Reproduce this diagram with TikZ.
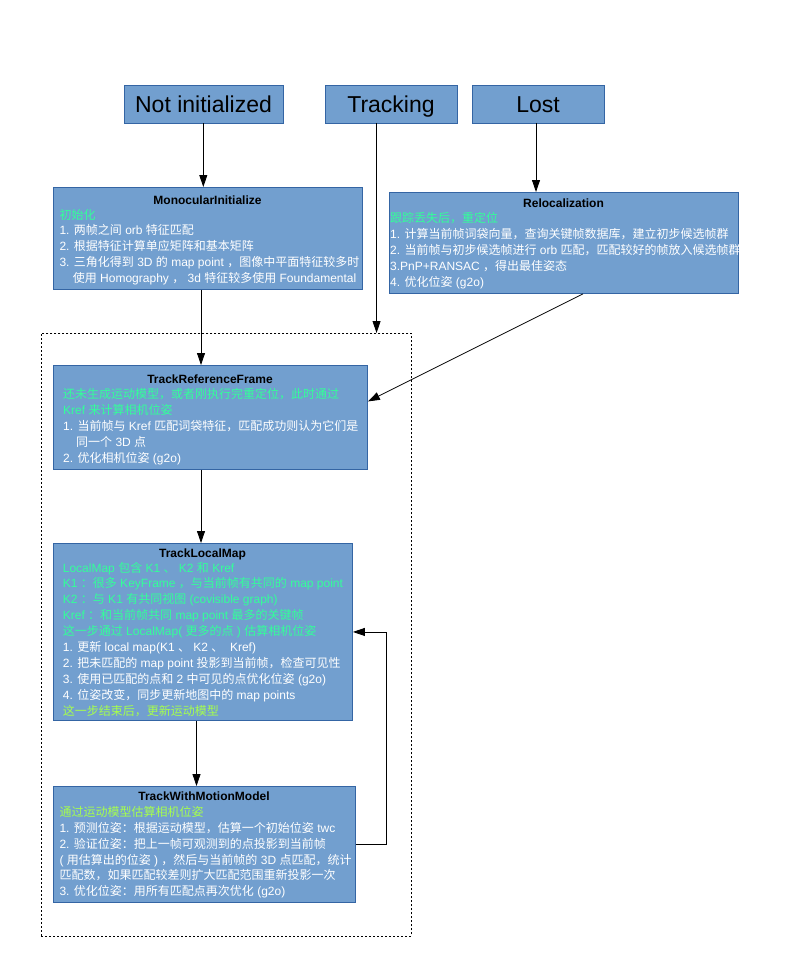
\documentclass[tikz,border=0pt]{standalone}
\usepackage{fontspec}
\setmainfont{Liberation Sans}
\newfontfamily\cjk{Noto Sans CJK SC}
\newcommand\zh[1]{{\cjk #1}}
\usetikzlibrary{arrows.meta}
\definecolor{boxfill}{HTML}{729FCF}
\definecolor{boxline}{HTML}{3465A4}
\definecolor{mint}{HTML}{33FF99}
\definecolor{lime}{HTML}{A6FF4D}
\tikzset{
  box/.style={draw=boxline, fill=boxfill, line width=0.9pt, inner sep=0pt, anchor=north west},
  statebox/.style={box, anchor=center, font=\fontsize{23}{28}\selectfont, text height=17pt, text depth=0pt},
  ttl/.style={font=\bfseries\fontsize{12}{14}\selectfont, anchor=base, inner sep=0pt, text=black},
  ln/.style={font=\fontsize{12}{14}\selectfont, anchor=base west, inner sep=0pt, text=white},
  gn/.style={ln, text=mint},
  yg/.style={ln, text=lime},
  arr/.style={-{Triangle[length=12pt,width=8pt]}, line width=0.8pt, draw=black},
  frame/.style={draw=black, line width=0.7pt, dash pattern=on 2pt off 2pt, inner sep=0pt, anchor=north west}
}
\begin{document}
\begin{tikzpicture}[x=1pt,y=-1pt]
\fill[white] (0,0) rectangle (784,963);
\useasboundingbox (0,0) rectangle (784,963);

% dashed frame
\node[frame, minimum width=370pt, minimum height=603pt] (frame) at (41,333) {};

% state boxes
\node[statebox, minimum width=159pt, minimum height=38pt] (notinit) at (203.5,104) {Not initialized};
\node[statebox, minimum width=132pt, minimum height=38pt] (track) at (391,104) {Tracking};
\node[statebox, minimum width=132pt, minimum height=38pt] (lost) at (538,104) {Lost};

% process boxes
\node[box, minimum width=309pt, minimum height=102pt] (mono) at (53,187) {};
\node[box, minimum width=349pt, minimum height=101pt] (reloc) at (389,192) {};
\node[box, minimum width=314pt, minimum height=104pt] (trf) at (53,365) {};
\node[box, minimum width=299pt, minimum height=177pt] (tlm) at (53,543) {};
\node[box, minimum width=302pt, minimum height=116pt] (twmm) at (53,786) {};

% MonocularInitialize text
\node[ttl] (m0) at (207.5,204) {MonocularInitialize};
\node[gn] (m1) at (59.3,219) {\zh{初始化}};
\node[ln] (m2) at (59.3,234.8) {1. \zh{两帧之间} orb \zh{特征匹配}};
\node[ln] (m3) at (59.3,250.6) {2. \zh{根据特征计算单应矩阵和基本矩阵}};
\node[ln] (m4) at (59.3,266.4) {3. \zh{三角化得到} 3D \zh{的} map point \zh{，图像中平面特征较多时}};
\node[ln] (m5) at (72.7,282.2) {\zh{使用} Homography \zh{，} 3d \zh{特征较多使用} Foundamental};

% Relocalization text
\node[ttl] (r0) at (563.5,207) {Relocalization};
\node[gn] (r1) at (390,222.3) {\zh{跟踪丢失后，重定位}};
\node[ln] (r2) at (390,238.4) {1. \zh{计算当前帧词袋向量，查询关键帧数据库，建立初步候选帧群}};
\node[ln] (r3) at (390,254.5) {2. \zh{当前帧与初步候选帧进行} orb \zh{匹配，匹配较好的帧放入候选帧群}};
\node[ln] (r4) at (390,270.6) {3.PnP+RANSAC \zh{，得出最佳姿态}};
\node[ln] (r5) at (390,286.7) {4. \zh{优化位姿} (g2o)};

% TrackReferenceFrame text
\node[ttl] (t0) at (210,383.5) {TrackReferenceFrame};
\node[gn] (t1) at (63,398) {\zh{还未生成运动模型，或者刚执行完重定位，此时通过}};
\node[gn] (t2) at (63,414.4) {Kref \zh{来计算相机位姿}};
\node[ln] (t3) at (63,430.7) {1. \zh{当前帧与} Kref \zh{匹配词袋特征，匹配成功则认为它们是}};
\node[ln] (t4) at (76,446.4) {\zh{同一个} 3D \zh{点}};
\node[ln] (t5) at (63,462.6) {2. \zh{优化相机位姿} (g2o)};

% TrackLocalMap text
\node[ttl] (l0) at (202.5,557) {TrackLocalMap};
\node[gn] (l1) at (62.7,572) {LocalMap \zh{包含} K1 \zh{、} K2 \zh{和} Kref};
\node[gn] (l2) at (62.7,587.9) {K1 \zh{：很多} KeyFrame \zh{，与当前帧有共同的} map point};
\node[gn] (l3) at (62.7,603.8) {K2 \zh{：与} K1 \zh{有共同视图} (covisible graph)};
\node[gn] (l4) at (62.7,619.7) {Kref \zh{：和当前帧共同} map point \zh{最多的关键帧}};
\node[gn] (l5) at (62.7,635.6) {\zh{这一步通过} LocalMap( \zh{更多的点} ) \zh{估算相机位姿}};
\node[ln] (l6) at (62.7,651.5) {1. \zh{更新} local map(K1 \zh{、} K2 \zh{、}\ \ Kref)};
\node[ln] (l7) at (62.7,667.4) {2. \zh{把未匹配的} map point \zh{投影到当前帧，检查可见性}};
\node[ln] (l8) at (62.7,683.3) {3. \zh{使用已匹配的点和} 2 \zh{中可见的点优化位姿} (g2o)};
\node[ln] (l9) at (62.7,699.2) {4. \zh{位姿改变，同步更新地图中的} map points};
\node[yg] (l10) at (62.7,715.1) {\zh{这一步结束后，更新运动模型}};

% TrackWithMotionModel text
\node[ttl] (w0) at (204,800) {TrackWithMotionModel};
\node[yg] (w1) at (59.3,816.8) {\zh{通过运动模型估算相机位姿}};
\node[ln] (w2) at (59.3,832.55) {1. \zh{预测位姿：根据运动模型，估算一个初始位姿} twc};
\node[ln] (w3) at (59.3,848.3) {2. \zh{验证位姿：把上一帧可观测到的点投影到当前帧}};
\node[ln] (w4) at (59.3,864.05) {( \zh{用估算出的位姿} ) \zh{，然后与当前帧的} 3D \zh{点匹配，统计}};
\node[ln] (w5) at (59.3,879.8) {\zh{匹配数，如果匹配较差则扩大匹配范围重新投影一次}};
\node[ln] (w6) at (59.3,895.55) {3. \zh{优化位姿：用所有匹配点再次优化} (g2o)};

% connectors
\draw[arr] ([xshift=-0.2pt]notinit.south) -- ([xshift=-0.2pt]notinit.south |- mono.north);
\draw[arr] ([xshift=52pt]track.south west) -- ([xshift=52pt]track.south west |- frame.north);
\draw[arr] ([xshift=-2pt]lost.south) -- ([xshift=-2pt]lost.south |- reloc.north);
\draw[arr] ([xshift=148pt]mono.south west) -- ([xshift=148pt]mono.south west |- trf.north);
\draw[arr] ([xshift=194pt]reloc.south west) -- ([yshift=16pt]trf.east);
\draw[arr] ([xshift=148pt]trf.south west) -- ([xshift=148pt]trf.south west |- tlm.north);
\draw[arr] ([xshift=143.5pt]tlm.south west) -- ([xshift=143.5pt]tlm.south west |- twmm.north);
\draw[arr] (twmm.east) -- ++(30,0) |- (tlm.east);
\end{tikzpicture}
\end{document}
